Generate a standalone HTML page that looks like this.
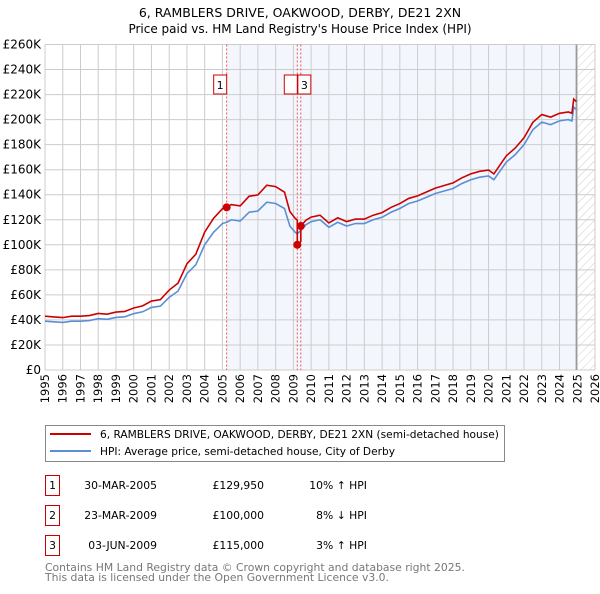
<!DOCTYPE html>
<html><head><meta charset="utf-8"><style>
body{margin:0;background:#fff;font-family:"DejaVu Sans","Liberation Sans",sans-serif;}
svg text{font-family:"DejaVu Sans","Liberation Sans",sans-serif;}
</style></head><body>
<svg id="chart" width="600" height="590" viewBox="0 0 600 590" xmlns="http://www.w3.org/2000/svg">
<defs><pattern id="hatch" width="6" height="6" patternUnits="userSpaceOnUse" patternTransform="rotate(45)"><line x1="0" y1="0" x2="0" y2="6" stroke="#ccc" stroke-width="1"/></pattern></defs>
<text x="300" y="17" text-anchor="middle" font-size="12.5">6, RAMBLERS DRIVE, OAKWOOD, DERBY, DE21 2XN</text>
<text x="300" y="33" text-anchor="middle" font-size="12">Price paid vs. HM Land Registry's House Price Index (HPI)</text>
<g id="plot"></g>
<g>
<rect x="45.5" y="425.5" width="459" height="36" fill="#fff" stroke="#888"/>
<line x1="50" y1="434" x2="91" y2="434" stroke="#cc0000" stroke-width="2"/>
<text x="100" y="438" font-size="10.6">6, RAMBLERS DRIVE, OAKWOOD, DERBY, DE21 2XN (semi-detached house)</text>
<line x1="50" y1="451" x2="91" y2="451" stroke="#5b8fd4" stroke-width="2"/>
<text x="100" y="455" font-size="10.6">HPI: Average price, semi-detached house, City of Derby</text>
</g>
<g id="table" font-size="10.8"></g>
<text x="45" y="571" font-size="10.8" fill="#777">Contains HM Land Registry data © Crown copyright and database right 2025.</text>
<text x="45" y="581" font-size="10.8" fill="#777">This data is licensed under the Open Government Licence v3.0.</text>
</svg>
<script>
const hpiYears=[1995,1995.5,1996,1996.5,1997,1997.5,1998,1998.5,1999,1999.5,2000,2000.5,2001,2001.5,2002,2002.5,2003,2003.5,2004,2004.5,2005,2005.24,2005.5,2006,2006.5,2007,2007.5,2008,2008.5,2008.8,2009.1,2009.22,2009.42,2009.7,2010,2010.5,2011,2011.5,2012,2012.5,2013,2013.5,2014,2014.5,2015,2015.5,2016,2016.5,2017,2017.5,2018,2018.5,2019,2019.5,2020,2020.3,2020.7,2021,2021.5,2022,2022.5,2023,2023.5,2024,2024.5,2024.7,2024.8,2024.95];
const hpiValues=[39000,38500,38000,39000,39000,39500,41000,40500,42000,42500,45000,46500,50000,51000,58000,63000,77000,84000,100000,110000,117000,118000,120000,119000,126000,127000,134000,133000,129000,115000,110000,108700,111600,116000,118500,120000,114000,118000,115000,117000,117000,120000,122000,126000,129000,133000,135000,138000,141000,143000,145000,149000,152000,154000,155000,152000,160000,166000,172000,180000,192000,198000,196000,199000,200000,199000,210000,208000];
const saleLabels=["1","2","3"];
const saleDates=[2005.24,2009.22,2009.42];
const salePrices=[129950,100000,115000];
const saleDateText=["30-MAR-2005","23-MAR-2009","03-JUN-2009"];
const salePriceText=["£129,950","£100,000","£115,000"];
const saleHpiText=["10% ↑ HPI","8% ↓ HPI","3% ↑ HPI"];
const yTicks=[0,20000,40000,60000,80000,100000,120000,140000,160000,180000,200000,220000,240000,260000];
const xTicks=[1995,1996,1997,1998,1999,2000,2001,2002,2003,2004,2005,2006,2007,2008,2009,2010,2011,2012,2013,2014,2015,2016,2017,2018,2019,2020,2021,2022,2023,2024,2025,2026];

const L=45,R=595,T=44.5,B=370;
const x=v=>L+(v-1995)/(2026-1995)*(R-L);
const y=v=>B-v/260000*(B-T);
const NS="http://www.w3.org/2000/svg";
const plot=document.getElementById('plot');
function mk(tag,attrs,parent){const e=document.createElementNS(NS,tag);for(const k in attrs)e.setAttribute(k,attrs[k]);(parent||plot).appendChild(e);return e;}
function hpiAt(t){for(let i=1;i<hpiYears.length;i++){if(t<=hpiYears[i]){const f=(t-hpiYears[i-1])/(hpiYears[i]-hpiYears[i-1]);return hpiValues[i-1]+f*(hpiValues[i]-hpiValues[i-1]);}}return hpiValues[hpiValues.length-1];}
const lastYear=hpiYears[hpiYears.length-1];
let bg=mk('rect',{x:L,y:T,width:R-L,height:B-T,fill:'#fff'});


let sh=mk('rect',{x:x(saleDates[0]),y:T,width:x(lastYear)-x(saleDates[0]),height:B-T,fill:'#eef3fc',opacity:0.7});


let ht=mk('rect',{x:x(lastYear),y:T,width:R-x(lastYear),height:B-T,fill:'url(#hatch)'});


yTicks.forEach(v=>{let l=mk('line',{x1:L,x2:R,y1:y(v),y2:y(v),stroke:'#ccc','stroke-width':1});


let t=mk('text',{x:L-4,y:y(v)+4,'text-anchor':'end','font-size':12});t.textContent='£'+(v/1000)+(v?'K':'');

});
xTicks.forEach(v=>{let l=mk('line',{x1:x(v),x2:x(v),y1:T,y2:B,stroke:'#ccc','stroke-width':1});


let t=mk('text',{x:0,y:0,'text-anchor':'end','font-size':11.5,transform:'translate('+(x(v)+4)+',374) rotate(-90)'});t.textContent=v;

});
let el=mk('line',{x1:x(lastYear),x2:x(lastYear),y1:T,y2:B,stroke:'#999','stroke-width':1.5});


saleDates.forEach(d=>{let l=mk('line',{x1:x(d),x2:x(d),y1:T,y2:B,stroke:'#e55','stroke-width':1,'stroke-dasharray':'2,2'});

});
let hp=mk('polyline',{points:hpiYears.map((t,i)=>x(t)+','+y(hpiValues[i])).join(' '),fill:'none',stroke:'#5b8fd4','stroke-width':1.6});


function factor(t){let k=0;for(let i=0;i<saleDates.length;i++)if(t>=saleDates[i])k=i;return salePrices[k]/hpiAt(saleDates[k]);}
let pts=[];hpiYears.forEach((t,i)=>{pts.push([t,hpiValues[i]*factor(t)]);});
saleDates.forEach((d,i)=>{pts.push([d-0.001,hpiAt(d)*factor(d-0.001)]);pts.push([d,salePrices[i]]);});
pts.sort((a,b)=>a[0]-b[0]);
let rp=mk('polyline',{points:pts.map(p=>x(p[0])+','+y(p[1])).join(' '),fill:'none',stroke:'#cc0000','stroke-width':1.6});


saleDates.forEach((d,i)=>{let c=mk('circle',{cx:x(d),cy:y(salePrices[i]),r:4,fill:'#cc0000'});

});
saleDates.forEach((d,i)=>{let bx=x(d)+(i==0?-10:(i==1?-10:0));let g=mk('g',{});


mk('rect',{x:bx-3,y:75,width:13,height:19,fill:'#fff',stroke:'#cc0000'},g);
let t=mk('text',{x:bx+3.5,y:89,'text-anchor':'middle','font-size':11},g);t.textContent=(i==1?'':saleLabels[i]);});
const tb=document.getElementById('table');
saleLabels.forEach((s,i)=>{const yy=475+i*30;
mk('rect',{x:45.5,y:yy+0.5,width:14,height:20,fill:'#fff',stroke:'#cc0000'},tb);
let a=mk('text',{x:52.5,y:yy+14,'text-anchor':'middle'},tb);a.textContent=s;
let b=mk('text',{x:157,y:yy+14,'text-anchor':'end'},tb);b.textContent=saleDateText[i];
let c=mk('text',{x:264,y:yy+14,'text-anchor':'end'},tb);c.textContent=salePriceText[i];
let e=mk('text',{x:367,y:yy+14,'text-anchor':'end'},tb);e.textContent=saleHpiText[i];});
</script>
</body></html>
